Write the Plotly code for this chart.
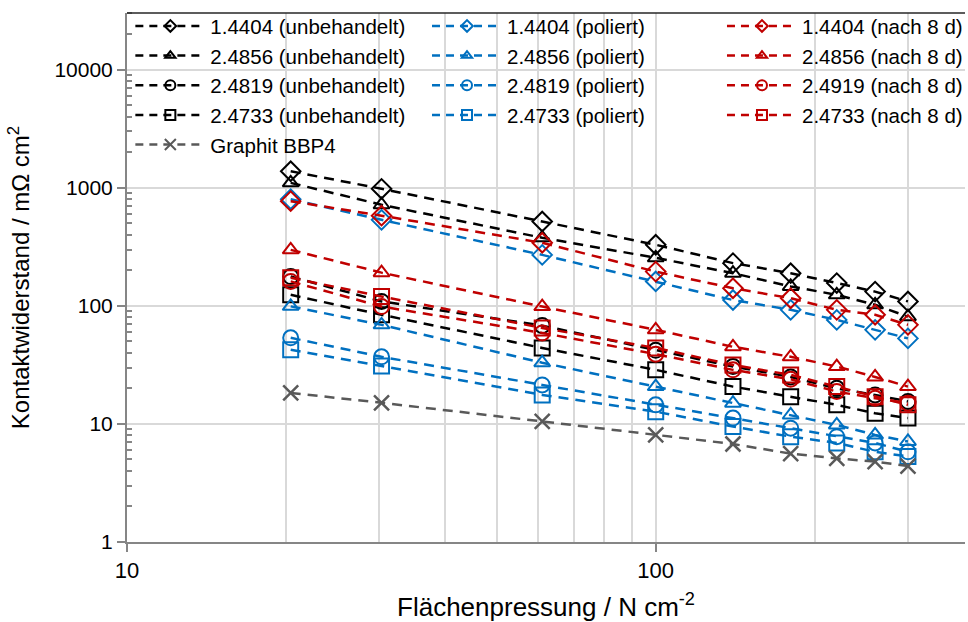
import plotly.graph_objects as go

# Flächenpressung / N cm^-2
pressure = [20.4, 30.3, 61, 100, 140, 180, 220, 260, 300]

# Kontaktwiderstand / mOhm cm^2
unb_14404 = [1380, 980, 518, 329, 230, 189, 156, 132, 109]
unb_24856 = [1100, 718, 377, 255, 189, 146, 124, 102, 81]
unb_24819 = [177, 109, 68, 42, 30.6, 25, 20, 17.6, 15.5]
unb_24733 = [124, 84, 44, 28.7, 20.7, 17, 14.5, 12.3, 11.2]

pol_14404 = [800, 535, 270, 161, 112, 92.5, 76, 62.6, 53]
pol_24856 = [99, 69, 33, 20.7, 15, 11.9, 9.8, 8.07, 7.1]
pol_24819 = [53.6, 37, 21.4, 14.5, 11.2, 9.2, 7.8, 6.9, 5.8]
pol_24733 = [42.4, 31, 17.6, 12.7, 9.5, 7.8, 6.9, 5.8, 5.3]

nach_14404 = [770, 580, 342, 195, 141, 116, 92.5, 84, 69]
nach_24856 = [298, 191, 98.6, 62.6, 45, 37, 30.6, 25, 20.7]
nach_24919 = [161, 98.6, 59, 39, 28.7, 23.9, 18.8, 16.5, 15]
nach_24733 = [173, 120, 65, 44, 31.6, 26, 20.7, 17, 14.5]

graphit = [18.3, 15.1, 10.5, 8.07, 6.76, 5.6, 5.1, 4.8, 4.4]

y_tickvals = [1, 10, 100, 1000, 10000]
y_ticktext = ["1", "10", "100", "1000", "10000"]
x_tickvals = [10, 100]
x_ticktext = ["10", "100"]
x_minor_vals = [20, 30, 40, 50, 60, 70, 80, 90, 200, 300]
y_minor_vals = [m * 10 ** k for k in range(0, 5) for m in range(2, 10) if m * 10 ** k < 30001]

BLACK = "#000000"
BLUE = "#0070C0"
RED = "#C00000"
GRAY = "#595959"

series = [
    ("1.4404 (unbehandelt)", unb_14404, BLACK, "diamond-open", "legend"),
    ("2.4856 (unbehandelt)", unb_24856, BLACK, "triangle-up-open", "legend"),
    ("2.4819 (unbehandelt)", unb_24819, BLACK, "circle-open", "legend"),
    ("2.4733 (unbehandelt)", unb_24733, BLACK, "square-open", "legend"),
    ("1.4404 (poliert)", pol_14404, BLUE, "diamond-open", "legend2"),
    ("2.4856 (poliert)", pol_24856, BLUE, "triangle-up-open", "legend2"),
    ("2.4819 (poliert)", pol_24819, BLUE, "circle-open", "legend2"),
    ("2.4733 (poliert)", pol_24733, BLUE, "square-open", "legend2"),
    ("1.4404 (nach 8 d)", nach_14404, RED, "diamond-open", "legend3"),
    ("2.4856 (nach 8 d)", nach_24856, RED, "triangle-up-open", "legend3"),
    ("2.4919 (nach 8 d)", nach_24919, RED, "circle-open", "legend3"),
    ("2.4733 (nach 8 d)", nach_24733, RED, "square-open", "legend3"),
    ("Graphit BBP4", graphit, GRAY, "x-thin-open", "legend"),
]

sizes = {"diamond-open": 15, "triangle-up-open": 14, "circle-open": 15,
         "square-open": 15, "x-thin-open": 15}
leg_sizes = {"diamond-open": 9, "triangle-up-open": 9, "circle-open": 10,
             "square-open": 10, "x-thin-open": 11}
DASH = "10px,7px"

fig = go.Figure()
for name, vals, col, sym, leg in series:
    lw = 2.5 if sym == "x-thin-open" else 2
    fig.add_trace(go.Scatter(
        x=pressure, y=vals, name=name, mode="lines+markers",
        line=dict(color=col, width=2.5, dash=DASH),
        marker=dict(symbol=sym, size=sizes[sym], color=col,
                    line=dict(color=col, width=lw)),
        legendgroup=name, showlegend=False,
    ))
# legend entries (smaller symbols, like the reference legend)
for name, vals, col, sym, leg in series:
    fig.add_trace(go.Scatter(
        x=[None], y=[None], name=name, mode="lines+markers",
        line=dict(color=col, width=2.5, dash="8px,6px"),
        marker=dict(symbol=sym, size=leg_sizes[sym], color=col,
                    line=dict(color=col, width=2)),
        legendgroup=name, showlegend=True, legend=leg,
    ))

FONT = "Liberation Sans, Arial, sans-serif"
leg_common = dict(
    y=1.013, yanchor="top", xanchor="left", orientation="v",
    bgcolor="rgba(0,0,0,0)", borderwidth=0,
    font=dict(family=FONT, size=20.5, color="#000000"),
    itemwidth=70, tracegroupgap=0,
)

fig.update_layout(
    width=968, height=622,
    margin=dict(l=127, r=0, t=13, b=80),
    paper_bgcolor="white", plot_bgcolor="white",
    font=dict(family=FONT, size=20, color="#000000"),
    legend=dict(x=0.004, **leg_common),
    legend2=dict(x=0.358, **leg_common),
    legend3=dict(x=0.710, **leg_common),
    xaxis=dict(
        type="log", range=[1, 2.585],
        tickvals=x_tickvals, ticktext=x_ticktext,
        showgrid=True, gridcolor="#d9d9d9", gridwidth=1.5,
        showline=True, linecolor="#868686", linewidth=2,
        ticks="outside", ticklen=8, tickcolor="#868686", tickwidth=1.5,
        minor=dict(tickvals=x_minor_vals, showgrid=True, gridcolor="#d9d9d9",
                   gridwidth=1.5, ticks=""),
        zeroline=False,
        title=dict(text="Flächenpressung / N cm<sup>-2</sup>", standoff=16,
                   font=dict(size=26)),
        tickfont=dict(family=FONT, size=22, color="#000000"),
    ),
    yaxis=dict(
        type="log", range=[0, 4.48],
        tickvals=y_tickvals, ticktext=y_ticktext,
        showgrid=True, gridcolor="#d9d9d9", gridwidth=1.5,
        showline=True, linecolor="#868686", linewidth=2,
        ticks="outside", ticklen=8, tickcolor="#868686", tickwidth=1.5,
        minor=dict(tickvals=y_minor_vals, ticks="inside", ticklen=5,
                   tickcolor="#868686", tickwidth=1.5, showgrid=False),
        zeroline=False,
        title=dict(text="Kontaktwiderstand / mΩ cm<sup>2</sup>", standoff=18,
                   font=dict(size=24)),
        tickfont=dict(family=FONT, size=21, color="#000000"),
    ),
    shapes=[dict(type="line", xref="paper", yref="paper", x0=0, x1=1, y0=1, y1=1,
                 line=dict(color="#262626", width=1.5), layer="above")],
)

fig.write_html("out.html")
